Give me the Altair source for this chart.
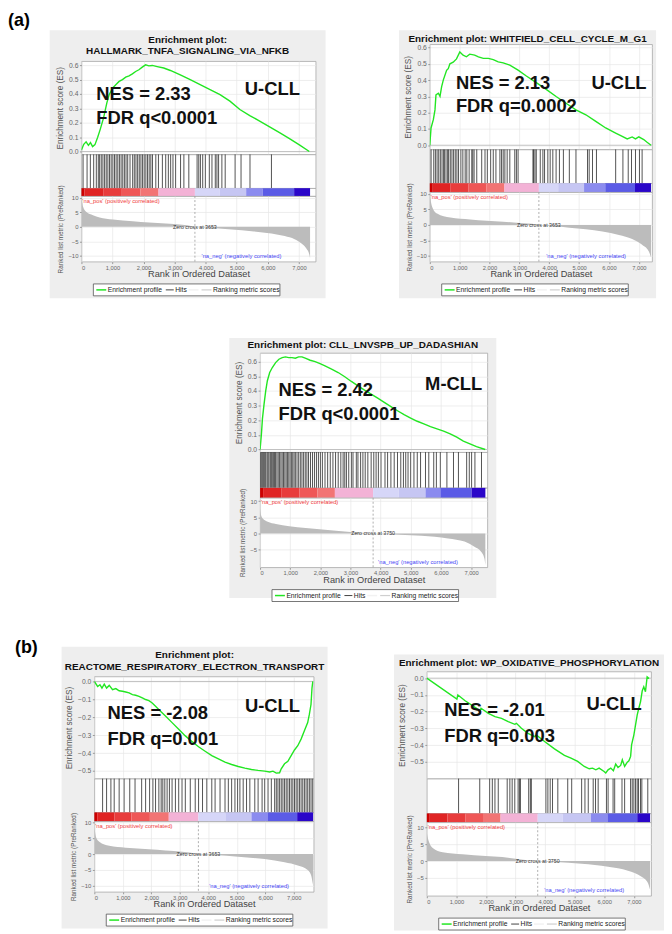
import altair as alt
import pandas as pd

# ---------------- data ----------------
RANK_TICKS = [0, 1000, 2000, 3000, 4000, 5000, 6000, 7000]
ES_TICKS_POS = [0.0, 0.1, 0.2, 0.3, 0.4, 0.5, 0.6]
ES_TICKS_NEG = [0.0, -0.1, -0.2, -0.3, -0.4, -0.5]
METRIC_TICKS_FULL = [10, 5, 0, -5, -10]
METRIC_TICKS_SHORT = [10, 5, 0, -5]
BAR_COLORS = ["#cc0000", "#e02424", "#e83c3c", "#ef5757", "#f27474", "#f3b2d6",
              "#d6d6f8", "#c6c6f3", "#8b8bef", "#5b5be6", "#2a06c9"]
LEGEND_LABELS = ["Enrichment profile", "Hits", "Ranking metric scores"]
POS_LABEL = "'na_pos' (positively correlated)"
NEG_LABEL = "'na_neg' (negatively correlated)"

# panel 1
p1_title = ["Enrichment plot:", "HALLMARK_TNFA_SIGNALING_VIA_NFKB"]
p1_es_rank = [0, 75, 150, 225, 290, 360, 435, 520, 605, 712, 818, 893, 1000, 1105, 1213, 1320, 1425,
              1533, 1640, 1745, 1850, 1958, 2065, 2170, 2280, 2438, 2650, 2863, 3182, 3502, 3821, 4141,
              4461, 4780, 5100, 5419, 5738, 6058, 6377, 6697, 7016, 7336]
p1_es_score = [0.01, 0.05, 0.067, 0.043, 0.062, 0.034, 0.048, 0.097, 0.154, 0.234, 0.338, 0.395, 0.44,
               0.464, 0.487, 0.5, 0.517, 0.526, 0.54, 0.556, 0.568, 0.586, 0.602, 0.595, 0.598, 0.59,
               0.58, 0.563, 0.533, 0.499, 0.464, 0.43, 0.395, 0.35, 0.292, 0.25, 0.212, 0.172, 0.131,
               0.09, 0.046, 0.0]
p1_hits = [53, 181, 287, 394, 479, 543, 585, 638, 691, 745, 798, 851, 904, 957, 1011, 1064, 1117, 1170,
           1223, 1277, 1330, 1383, 1436, 1489, 1564, 1649, 1702, 1755, 1809, 1862, 1915, 1968, 2021,
           2074, 2128, 2181, 2234, 2287, 2394, 2479, 2606, 2713, 2798, 2872, 2947, 3032, 3191, 3298,
           3457, 3723, 3777, 3830, 3904, 3989, 4117, 4202, 4309, 4362, 4415, 4521, 4628, 4947, 5138,
           5426, 6117]
p1_metric_rank = [0, 21, 53, 160, 372, 585, 1011, 1649, 2181, 2713, 3245, 3564, 3653, 3989, 4840, 5479,
                  6117, 6543, 6862, 7074, 7234, 7340, 7360]
p1_metric_value = [9.5, 8.6, 6.9, 5.1, 4.0, 3.2, 2.5, 1.94, 1.49, 1.14, 0.69, 0.23, 0, -0.23, -0.9, -1.5,
                   -2.3, -3.2, -4.3, -5.7, -7.4, -9.7, -10.8]
p1_bar_edges = [0, 100, 700, 1300, 1900, 2482, 3653, 4451, 5303, 5836, 6847, 7360]
p1_zero_cross = 3653
p1_notes = ["NES = 2.33", "FDR q<0.0001", "U-CLL"]
p1_note_rank = [480, 480, 5260]
p1_note_es = [0.361, 0.193, 0.395]

# panel 2
p2_title = ["Enrichment plot: WHITFIELD_CELL_CYCLE_M_G1"]
p2_es_rank = [0, 42, 119, 174, 207, 286, 342, 397, 452, 563, 618, 674, 784, 895, 1006, 1116, 1227, 1338,
              1504, 1628, 1794, 1960, 2126, 2292, 2458, 2680, 2957, 3234, 3566, 3898, 4230, 4563, 4895,
              5227, 5559, 5891, 6224, 6445, 6611, 6777, 6888, 6999, 7165, 7276, 7409]
p2_es_score = [0.0, 0.106, 0.157, 0.217, 0.309, 0.319, 0.30, 0.36, 0.40, 0.46, 0.47, 0.50, 0.51, 0.53,
               0.573, 0.553, 0.543, 0.559, 0.553, 0.543, 0.533, 0.533, 0.526, 0.512, 0.506, 0.492,
               0.461, 0.425, 0.384, 0.343, 0.299, 0.258, 0.217, 0.187, 0.146, 0.106, 0.075, 0.055,
               0.039, 0.051, 0.039, 0.051, 0.035, 0.018, 0.0]
p2_hits = [44, 133, 188, 244, 299, 354, 410, 465, 487, 543, 598, 631, 687, 742, 797, 853, 908, 963, 1041,
           1107, 1185, 1240, 1318, 1406, 1440, 1484, 1573, 1739, 1849, 1927, 2038, 2126, 2215, 2348,
           2403, 2458, 2514, 2591, 2680, 2846, 2901, 2957, 3455, 3477, 3522, 3566, 3699, 3787, 3843,
           3953, 4031, 4120, 4230, 4341, 4474, 4673, 4895, 5282, 5338, 5449, 5581, 6224, 6467, 6645,
           6755, 6888, 7021, 7110]
p2_metric_rank = [0, 22, 78, 244, 687, 1351, 1905, 2458, 3012, 3566, 3653, 4120, 4673, 5227, 5781, 6334,
                  6777, 7110, 7331, 7409]
p2_metric_value = [9.8, 8.5, 5.9, 3.7, 2.4, 1.8, 1.4, 1.06, 0.64, 0.2, 0, -0.3, -0.85, -1.4, -2.1, -3.2,
                   -4.5, -6.4, -8.5, -10.5]
p2_bar_edges = [0, 100, 700, 1300, 1900, 2500, 3653, 4300, 5166, 5876, 6872, 7410]
p2_zero_cross = 3653
p2_notes = ["NES = 2.13", "FDR q=0.0002", "U-CLL"]
p2_note_rank = [874, 874, 5415]
p2_note_es = [0.344, 0.201, 0.344]

# panel 3
p3_title = ["Enrichment plot: CLL_LNVSPB_UP_DADASHIAN"]
p3_es_rank = [0, 45, 78, 132, 187, 242, 319, 406, 516, 625, 734, 843, 952, 1061, 1170, 1280, 1389, 1498,
              1662, 1826, 1990, 2154, 2373, 2591, 2810, 3029, 3247, 3466, 3685, 3903, 4121, 4341, 4559,
              4777, 4996, 5215, 5433, 5652, 5870, 6089, 6307, 6526, 6744, 6963, 7180, 7470]
p3_es_score = [0.0, 0.107, 0.209, 0.31, 0.40, 0.47, 0.526, 0.56, 0.594, 0.617, 0.628, 0.633, 0.628,
               0.628, 0.624, 0.633, 0.633, 0.624, 0.61, 0.6, 0.587, 0.571, 0.549, 0.526, 0.497, 0.465,
               0.435, 0.406, 0.379, 0.351, 0.322, 0.293, 0.265, 0.238, 0.215, 0.193, 0.175, 0.156,
               0.141, 0.125, 0.107, 0.084, 0.057, 0.039, 0.02, 0.0]
p3_hits = [23, 56, 89, 121, 154, 187, 231, 263, 296, 340, 373, 406, 449, 482, 515, 559, 602, 646, 690,
           733, 777, 821, 865, 908, 952, 996, 1039, 1083, 1127, 1171, 1225, 1280, 1335, 1389, 1444,
           1499, 1553, 1608, 1673, 1739, 1804, 1870, 1936, 2001, 2067, 2154, 2242, 2329, 2417, 2504,
           2592, 2679, 2755, 2810, 2865, 2941, 3029, 3083, 3193, 3247, 3335, 3411, 3488, 3575, 3685,
           3772, 3849, 3925, 4012, 4144, 4231, 4340, 4450, 4559, 4668, 4756, 4832, 4909, 4996, 5105,
           5215, 5324, 5488, 5597, 5761, 5849, 5980, 6198, 6417, 6581, 6854, 6941, 7018, 7128, 7346]
p3_metric_rank = [0, 33, 89, 254, 527, 968, 1515, 2064, 2614, 3000, 3500, 3750, 4260, 5357, 6236, 6783,
                  7112, 7333, 7442, 7474]
p3_metric_value = [7.65, 5.6, 4.6, 3.6, 2.9, 2.2, 1.7, 1.2, 0.8, 0.45, 0.12, 0, -0.2, -0.7, -1.5, -2.5,
                   -4.1, -5.6, -7.7, -9.7]
p3_bar_edges = [0, 100, 700, 1300, 1900, 2482, 3750, 4600, 5488, 5980, 7018, 7475]
p3_zero_cross = 3750
p3_notes = ["NES = 2.42", "FDR q<0.0001", "M-CLL"]
p3_note_rank = [613, 613, 5475]
p3_note_es = [0.363, 0.204, 0.408]

# panel 4
p4_title = ["Enrichment plot:", "REACTOME_RESPIRATORY_ELECTRON_TRANSPORT"]
p4_es_rank = [0, 116, 197, 267, 348, 430, 523, 639, 755, 871, 987, 1103, 1220, 1336, 1452, 1568, 1684,
              1800, 1916, 2032, 2148, 2323, 2497, 2729, 2961, 3194, 3426, 3658, 3890, 4123, 4355, 4587,
              4820, 5052, 5284, 5516, 5748, 5981, 6155, 6271, 6387, 6503, 6561, 6677, 6794, 6910, 7026,
              7142, 7258, 7374, 7490, 7548, 7606, 7641, 7670]
p4_es_score = [0, -0.028, -0.018, -0.037, -0.015, -0.037, -0.022, -0.046, -0.04, -0.052, -0.055, -0.059,
               -0.064, -0.074, -0.077, -0.083, -0.092, -0.101, -0.107, -0.12, -0.138, -0.166, -0.193,
               -0.23, -0.267, -0.304, -0.335, -0.365, -0.39, -0.414, -0.433, -0.451, -0.464, -0.475,
               -0.484, -0.492, -0.497, -0.501, -0.506, -0.501, -0.512, -0.51, -0.488, -0.46, -0.446,
               -0.414, -0.383, -0.359, -0.322, -0.276, -0.23, -0.184, -0.129, -0.037, 0.0]
p4_hits = [290, 430, 581, 697, 871, 1045, 1243, 1429, 1661, 1800, 1940, 2056, 2149, 2265, 2346, 2404,
           2474, 2555, 2636, 2729, 2846, 2962, 3078, 3194, 3368, 3542, 3659, 3798, 3949, 4123, 4239,
           4413, 4588, 4704, 4820, 4936, 5029, 5110, 5226, 5343, 5459, 5633, 5749, 5889, 5981, 6098,
           6214, 6330, 6388, 6446, 6504, 6562, 6620, 6678, 6736, 6794, 6852, 6911, 6969, 7027, 7085,
           7143, 7201, 7259, 7317, 7375, 7433, 7491, 7549, 7607, 7666]
p4_metric_rank = [0, 23, 58, 174, 523, 1103, 1916, 2497, 3078, 3600, 3653, 4239, 5052, 5981, 6678, 7143,
                  7491, 7607, 7677]
p4_metric_value = [8.0, 7.0, 5.4, 3.9, 2.6, 2.0, 1.5, 1.15, 0.73, 0.1, 0, -0.3, -0.85, -1.6, -2.6, -3.6,
                   -5.0, -6.6, -9.7]
p4_bar_edges = [0, 100, 700, 1300, 1950, 2613, 3653, 4600, 5516, 6097, 7120, 7680]
p4_zero_cross = 3653
p4_notes = ["NES = -2.08", "FDR q=0.001", "U-CLL"]
p4_note_rank = [463, 463, 5285]
p4_note_es = [-0.208, -0.355, -0.171]

# panel 5
p5_title = ["Enrichment plot: WP_OXIDATIVE_PHOSPHORYLATION"]
p5_es_rank = [0, 1017, 1050, 1296, 1632, 1800, 1834, 2081, 2303, 2527, 2752, 2975, 3030, 3198, 3423,
              3646, 3702, 3982, 4317, 4653, 4876, 5101, 5324, 5491, 5605, 5716, 5827, 5995, 6051, 6129,
              6220, 6309, 6387, 6465, 6555, 6611, 6689, 6779, 6834, 6891, 6924, 7002, 7058, 7115, 7169,
              7226, 7283, 7337, 7393, 7450, 7517]
p5_es_score = [0, -0.125, -0.1, -0.135, -0.175, -0.195, -0.18, -0.21, -0.23, -0.24, -0.26, -0.276, -0.27,
               -0.3, -0.33, -0.35, -0.34, -0.379, -0.423, -0.462, -0.478, -0.498, -0.528, -0.542, -0.538,
               -0.548, -0.538, -0.558, -0.567, -0.548, -0.538, -0.554, -0.514, -0.534, -0.522, -0.488,
               -0.528, -0.502, -0.494, -0.468, -0.399, -0.339, -0.28, -0.22, -0.18, -0.141, -0.077,
               -0.052, -0.081, 0.008, -0.002]
p5_hits = [1074, 1790, 2125, 2215, 2304, 2416, 2718, 2808, 2886, 2975, 3087, 3132, 3166, 3445, 3501, 3535,
           4027, 4094, 4172, 4251, 4430, 4765, 4899, 5235, 5347, 5459, 5626, 5705, 5794, 6074, 6130,
           6298, 6353, 6600, 6689, 6890, 6946, 7002, 7058, 7114, 7159, 7226, 7271, 7472]
p5_metric_rank = [0, 22, 89, 201, 537, 1208, 1991, 2550, 2998, 3500, 3750, 4340, 5235, 6130, 6801, 7248,
                  7472, 7550]
p5_metric_value = [8.5, 7.4, 5.4, 3.9, 2.6, 2.0, 1.5, 1.2, 0.7, 0.2, 0, -0.3, -0.8, -1.7, -2.9, -4.6,
                   -6.4, -8.5]
p5_bar_edges = [0, 100, 700, 1300, 1900, 2494, 3750, 4600, 5548, 6107, 7115, 7550]
p5_zero_cross = 3750
p5_notes = ["NES = -2.01", "FDR q=0.003", "U-CLL"]
p5_note_rank = [591, 591, 5403]
p5_note_es = [-0.224, -0.383, -0.193]

# ---------------- style ----------------
SANS = "'Liberation Sans', Arial, Helvetica, sans-serif"
PANEL_BG = "#eeeeee"
GRID = "#e6e6e6"
FRAME = "#a8a8a8"
GREEN = "#22e622"
AREA = "#bcbcbc"
WHITE_VIEW = alt.ViewBackground(fill="white", stroke=FRAME, strokeWidth=0.8)


def one():
    return pd.DataFrame({"k": [0]})


def px_rect(x, x2, y, y2, **kw):
    return alt.Chart(one()).mark_rect(**kw).encode(
        x=alt.value(x), x2=alt.value(x2), y=alt.value(y), y2=alt.value(y2))


def px_rule(x, x2, y, **kw):
    return alt.Chart(one()).mark_rule(**kw).encode(
        x=alt.value(x), x2=alt.value(x2), y=alt.value(y))


def px_text(x, y, s, **kw):
    return alt.Chart(one()).mark_text(text=s, **kw).encode(x=alt.value(x), y=alt.value(y))


def spacer(w, h):
    return px_rect(0, w, 0, h, opacity=0).properties(width=w, height=h)


def panel(d, g):
    W, L, R, T = g["W"], g["L"], g["R"], g["T"]
    Hes, Hh, Hc, Hr, B = g["H_es"], g["H_hits"], g["H_cb"], g["H_rk"], g["B"]
    total = T + Hes + Hh + Hc + Hr + B
    xs = alt.Scale(domain=[0, g["D"]], nice=False, zero=False)

    # --- title strip with the grey panel background ---
    layers = [px_rect(-L, W + R, 0, total, color=PANEL_BG)]
    cx = (W + R - L) / 2
    for line, by in zip(d["title"], g["title_y"]):
        layers.append(px_text(cx, by, line, align="center", baseline="alphabetic", font=SANS,
                              fontSize=10, fontWeight="bold", color="#111"))
    if "tag" in g:
        layers.append(px_text(g["tag_x"], g["tag_y"], g["tag"], align="left", baseline="alphabetic",
                              font=SANS, fontSize=18, fontWeight="bold", color="#000"))
    title_chart = alt.layer(*layers).properties(width=W, height=T)

    # --- enrichment score ---
    ys = alt.Scale(domain=g["es_dom"], nice=False, zero=False)
    es_x_axis = alt.Axis(values=RANK_TICKS, labels=False, ticks=False, domain=False, title=None,
                         grid=True, gridColor=GRID, gridWidth=0.7)
    es_y_axis = alt.Axis(values=g["es_ticks"], format=".1f", title="Enrichment score (ES)",
                         titleFont=SANS, titleFontSize=8.3, titleFontWeight="normal", titleColor="#555",
                         titlePadding=4, labelFont=SANS, labelFontSize=6.8, labelColor="#666",
                         labelPadding=1.5, tickSize=2, tickColor="#999", domain=False, grid=True,
                         gridColor=GRID, gridWidth=0.7)
    es_df = pd.DataFrame({"rank": d["es_rank"], "es": d["es_score"]})
    zero_df = pd.DataFrame({"rank": [0], "es": [0.0]})
    note_df = pd.DataFrame({"rank": d["note_rank"], "es": d["note_es"], "label": d["notes"]})
    zero_rule = alt.Chart(zero_df).mark_rule(color="#b4b4b4", strokeWidth=0.8).encode(
        y=alt.Y("es:Q", scale=ys, axis=es_y_axis))
    line = alt.Chart(es_df).mark_line(color=GREEN, strokeWidth=1.4, clip=True).encode(
        x=alt.X("rank:Q", scale=xs, axis=es_x_axis), y=alt.Y("es:Q", scale=ys, axis=es_y_axis))
    notes = alt.Chart(note_df).mark_text(align="left", baseline="alphabetic", font=SANS, fontSize=18.5,
                                         fontWeight="bold", color="#111").encode(
        x=alt.X("rank:Q", scale=xs, axis=es_x_axis), y=alt.Y("es:Q", scale=ys, axis=es_y_axis),
        text="label:N")
    es_chart = alt.layer(zero_rule, line, notes).properties(width=W, height=Hes, view=WHITE_VIEW)

    # --- hits ---
    hits_chart = alt.Chart(pd.DataFrame({"rank": d["hits"]})).mark_rule(
        color="#111", strokeWidth=1, opacity=0.72).encode(
        x=alt.X("rank:Q", scale=xs, axis=None)).properties(width=W, height=Hh, view=WHITE_VIEW)

    # --- colour bar ---
    e = d["bar_edges"]
    cb_df = pd.DataFrame({"start": e[:-1], "end": e[1:], "color": BAR_COLORS})
    cb_chart = alt.Chart(cb_df).mark_rect().encode(
        x=alt.X("start:Q", scale=xs, axis=None), x2="end:Q",
        color=alt.Color("color:N", scale=None)).properties(width=W, height=Hc, view=WHITE_VIEW)

    # --- ranked list metric ---
    yr = alt.Scale(domain=g["rk_dom"], nice=False, zero=False)
    rk_x_axis = alt.Axis(values=RANK_TICKS, format=",d", title="Rank in Ordered Dataset", titleFont=SANS,
                         titleFontSize=9.3, titleFontWeight="normal", titleColor="#444", titlePadding=0,
                         labelFont=SANS, labelFontSize=5.8, labelColor="#666", labelPadding=0.5,
                         tickSize=2, tickColor="#999", domain=False, grid=True, gridColor=GRID,
                         gridWidth=0.7)
    rk_y_axis = alt.Axis(values=g["rk_ticks"], format="d", title="Ranked list metric (PreRanked)",
                         titleFont=SANS, titleFontSize=6.4, titleFontWeight="normal", titleColor="#555",
                         titlePadding=4, labelFont=SANS, labelFontSize=6, labelColor="#666",
                         labelPadding=1.5, tickSize=2, tickColor="#999", domain=False, grid=True,
                         gridColor=GRID, gridWidth=0.7)
    m_df = pd.DataFrame({"rank": d["metric_rank"], "metric": d["metric_value"]})
    area = alt.Chart(m_df).mark_area(color=AREA, interpolate="monotone", clip=True).encode(
        x=alt.X("rank:Q", scale=xs, axis=rk_x_axis), y=alt.Y("metric:Q", scale=yr, axis=rk_y_axis),
        y2=alt.datum(0))
    zc_df = pd.DataFrame({"rank": [d["zero_cross"]], "metric": [0.0],
                          "label": ["Zero cross at %d" % d["zero_cross"]]})
    zc_rule = alt.Chart(zc_df).mark_rule(color="#9a9a9a", strokeDash=[2, 2], strokeWidth=0.8).encode(
        x=alt.X("rank:Q", scale=xs, axis=rk_x_axis))
    zc_text = alt.Chart(zc_df).mark_text(font=SANS, fontSize=5.3, color="#333", align="center",
                                         baseline="middle").encode(
        x=alt.X("rank:Q", scale=xs, axis=rk_x_axis), y=alt.Y("metric:Q", scale=yr, axis=rk_y_axis),
        text="label:N")
    pos_df = pd.DataFrame({"rank": [30]})
    pos_text = alt.Chart(pos_df).mark_text(text=POS_LABEL, font=SANS, fontSize=5.8, color="#f03a3a",
                                           align="left", baseline="top").encode(
        x=alt.X("rank:Q", scale=xs, axis=rk_x_axis), y=alt.value(1.5))
    neg_df = pd.DataFrame({"rank": [g["neg_rank"]]})
    neg_text = alt.Chart(neg_df).mark_text(text=NEG_LABEL, font=SANS, fontSize=5.8, color="#4646f5",
                                           align="left", baseline="bottom").encode(
        x=alt.X("rank:Q", scale=xs, axis=rk_x_axis), y=alt.value(Hr - 2.5))

    # legend box under the axis
    ly = Hr + 28.5
    legend = [
        px_rect(12, 200, Hr + 22.5, Hr + 34.5, fill="white", stroke="#555", strokeWidth=0.8),
        px_rule(15, 25, ly, color=GREEN, strokeWidth=1.5),
        px_text(26.5, ly, LEGEND_LABELS[0], align="left", baseline="middle", font=SANS, fontSize=6.8,
                color="#222"),
        px_rule(85, 93, ly, color="#444", strokeWidth=1),
        px_text(94.5, ly, LEGEND_LABELS[1], align="left", baseline="middle", font=SANS, fontSize=6.8,
                color="#222"),
        px_rule(108, 118, ly, color="#f2f2f2", strokeWidth=1.5),
        px_rule(121, 131, ly, color="#cfcfcf", strokeWidth=1.2),
        px_text(132.5, ly, LEGEND_LABELS[2], align="left", baseline="middle", font=SANS, fontSize=6.8,
                color="#222"),
    ]
    rk_chart = alt.layer(area, zc_rule, zc_text, pos_text, neg_text, *legend).properties(
        width=W, height=Hr, view=WHITE_VIEW)

    return alt.vconcat(title_chart, es_chart, hits_chart, cb_chart, rk_chart, spacing=0, bounds="flush")


def pdata(title, es_rank, es_score, hits, metric_rank, metric_value, bar_edges, zero_cross, notes,
          note_rank, note_es):
    return dict(title=title, es_rank=es_rank, es_score=es_score, hits=hits, metric_rank=metric_rank,
                metric_value=metric_value, bar_edges=bar_edges, zero_cross=zero_cross, notes=notes,
                note_rank=note_rank, note_es=note_es)


d1 = pdata(p1_title, p1_es_rank, p1_es_score, p1_hits, p1_metric_rank, p1_metric_value, p1_bar_edges,
           p1_zero_cross, p1_notes, p1_note_rank, p1_note_es)
d2 = pdata(p2_title, p2_es_rank, p2_es_score, p2_hits, p2_metric_rank, p2_metric_value, p2_bar_edges,
           p2_zero_cross, p2_notes, p2_note_rank, p2_note_es)
d3 = pdata(p3_title, p3_es_rank, p3_es_score, p3_hits, p3_metric_rank, p3_metric_value, p3_bar_edges,
           p3_zero_cross, p3_notes, p3_note_rank, p3_note_es)
d4 = pdata(p4_title, p4_es_rank, p4_es_score, p4_hits, p4_metric_rank, p4_metric_value, p4_bar_edges,
           p4_zero_cross, p4_notes, p4_note_rank, p4_note_es)
d5 = pdata(p5_title, p5_es_rank, p5_es_score, p5_hits, p5_metric_rank, p5_metric_value, p5_bar_edges,
           p5_zero_cross, p5_notes, p5_note_rank, p5_note_es)

g1 = dict(W=236, L=32, R=10, T=31, H_es=94, H_hits=34, H_cb=8, H_rk=66, B=37, D=7540,
          title_y=[13, 24], es_dom=[-0.02, 0.628], es_ticks=ES_TICKS_POS, rk_dom=[-12.0, 10.6],
          rk_ticks=METRIC_TICKS_FULL, neg_rank=3866)
g2 = dict(W=224, L=31, R=4, T=14, H_es=106, H_hits=34, H_cb=9, H_rk=70, B=37, D=7444,
          title_y=[11.7], es_dom=[-0.026, 0.62], es_ticks=ES_TICKS_POS, rk_dom=[-11.8, 10.6],
          rk_ticks=METRIC_TICKS_FULL, neg_rank=3897)
g3 = dict(W=229, L=31, R=9, T=15, H_es=100, H_hits=36, H_cb=10, H_rk=70, B=31, D=7540,
          title_y=[10], es_dom=[-0.018, 0.66], es_ticks=ES_TICKS_POS, rk_dom=[-10.4, 11.0],
          rk_ticks=METRIC_TICKS_SHORT, neg_rank=3915)
g4 = dict(W=221, L=33, R=14, T=30, H_es=103, H_hits=34, H_cb=9, H_rk=71, B=37, D=7700,
          title_y=[11.6, 24], es_dom=[-0.543, 0.028], es_ticks=ES_TICKS_NEG, rk_dom=[-11.9, 10.3],
          rk_ticks=METRIC_TICKS_FULL, neg_rank=4031, tag="(b)", tag_x=-80, tag_y=6)
g5 = dict(W=226, L=33, R=13, T=17, H_es=108, H_hits=35, H_cb=9, H_rk=74, B=35, D=7584,
          title_y=[11], es_dom=[-0.601, 0.04], es_ticks=ES_TICKS_NEG, rk_dom=[-10.3, 11.5],
          rk_ticks=METRIC_TICKS_SHORT, neg_rank=3970)

P1 = panel(d1, g1)
P2 = panel(d2, g2)
P3 = panel(d3, g3)
P4 = panel(d4, g4)
P5 = panel(d5, g5)

label_a = px_text(0, 13.5, "(a)", align="left", baseline="alphabetic", font=SANS, fontSize=18,
                  fontWeight="bold", color="#000").properties(width=30, height=18)

row_a = alt.hconcat(spacer(42, 10), P1, spacer(74, 10), P2, spacing=0)
row_b = alt.hconcat(spacer(223, 10), P3, spacing=0)
row_c = alt.hconcat(spacer(7, 10), P4, spacer(67, 10),
                    alt.vconcat(spacer(50, 8), P5, spacing=0), spacing=0)

chart = alt.vconcat(label_a, row_a, spacer(10, 40), row_b, spacer(10, 36), row_c, spacing=0).properties(
    padding=0).configure_view(strokeWidth=0)

chart.save("out.html", embed_options={"renderer": "svg", "actions": False})
